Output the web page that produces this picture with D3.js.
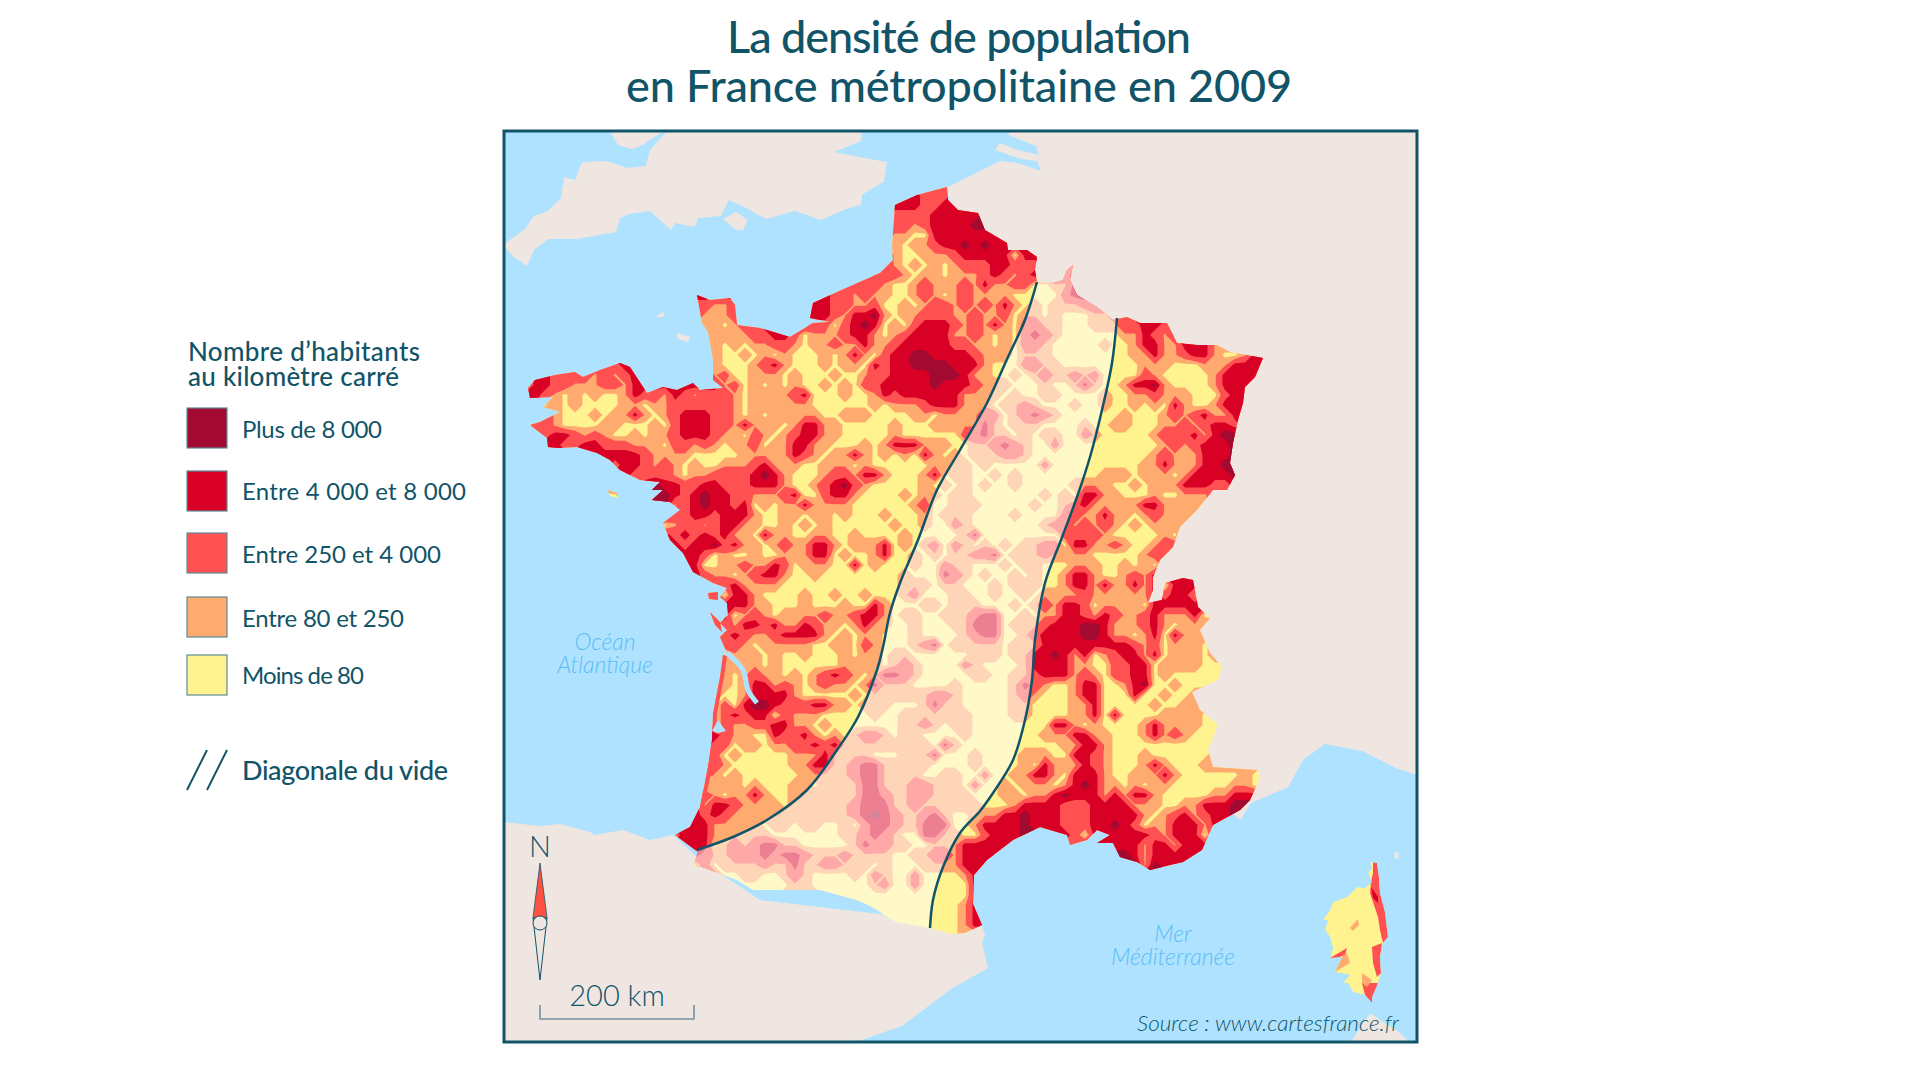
<!DOCTYPE html>
<html lang="fr">
<head>
<meta charset="utf-8">
<title>La densité de population en France métropolitaine en 2009</title>
<script src="https://cdn.jsdelivr.net/npm/d3@7"></script>
<style>
  body { margin: 0; background: #fff; }
  svg { display: block; }
  text { font-family: Lato, "Open Sans", sans-serif; fill: #115468; }
</style>
</head>
<body>
<div id="svgWrapper"></div>
<script>
const titleLines = ['La densité de population', 'en France métropolitaine en 2009'];
const titleWidths = [464, 666];
const legendTitle = ['Nombre d’habitants', 'au kilomètre carré'];
const legendTitleWidths = [232, 211];
const legendLabels = ['Plus de 8 000', 'Entre 4 000 et 8 000', 'Entre 250 et 4 000', 'Entre 80 et 250', 'Moins de 80'];
const legendWidths = [140, 224, 199, 162, 122];
const legendClasses = [4, 3, 2, 1, 0];
const classColors = ['#fff390', '#ffab70', '#ff5151', '#d90025', '#a30a32'];

// density class, one digit per 10 x 10 cell, 0 = moins de 80 ... 4 = plus de 8 000
const westRows = [
    '', '', '', '', '', '', '', '', '',
    '000000 000000 000000 000000 000000 000002',
    '000000 000000 000000 000000 000000 000222',
    '000000 000000 000000 230000 000000 022121',
    '000000 000000 000000 211200 000003 322112',
    '000000 000000 000000 111200 000003 321334',
    '000000 000000 000000 110110 000002 202343',
    '000000 000000 000000 011112 233201 112331',
    '000000 000000 000000 010101 122101 121131',
    '000000 000000 000000 010010 101000 101310',
    '000000 002230 000000 010001 231000 101103',
    '000222 212123 000000 012001 110100 010012',
    '033221 112213 012233 001201 010100 101022',
    '332101 010013 221321 222101 111230 001001',
    '200101 000011 011222 222101 111110 000001',
    '000100 010113 101233 322101 011111 001110',
    '022100 001100 010233 322131 110133 110000',
    '002332 121001 011233 321102 101233 110000',
    '000322 332221 110221 210112 011331 100010',
    '000002 023333 211110 000011 111321 011310',
    '000000 002233 212101 001112 311100 111010',
    '000000 000022 222101 122223 431000 122133',
    '000000 000000 023322 332223 331001 234210',
    '000000 000000 034323 433221 112300 233100',
    '000000 000000 022123 433230 101131 111000',
    '000000 000000 000223 323331 001101 101000',
    '000000 000000 000122 123311 001010 100000',
    '000000 000000 000232 323110 311001 100100',
    '000000 000000 000323 342311 012113 310111',
    '000000 000000 000033 201001 001113 301001',
    '000000 000000 000023 001121 132011 100301',
    '000000 000000 000002 211012 331001 000000',
    '000000 000000 000000 002311 110000 000000',
    '000000 000000 000000 220331 000010 010010',
    '000000 000000 000000 002331 100010 001003',
    '000000 000000 000000 002012 101111 211233',
    '000000 000000 000000 002133 231132 110131',
    '000000 000000 000000 002321 123333 101011',
    '000000 000000 000000 002210 111110 011021',
    '000000 000000 000000 000111 010010 001011',
    '000000 000000 000000 001111 010000 001111',
    '000000 000000 000000 001012 110101 232101',
    '000000 000000 000000 001013 312101 211013',
    '000000 000000 000000 000013 333100 000101',
    '000000 000000 000000 002034 432223 311011',
    '000000 000000 000000 002323 302111 000001',
    '000000 000000 000000 002112 233110 100000',
    '000000 000000 000000 032110 032231 010122',
    '000000 000000 000000 022011 011223 231111',
    '000000 000000 000000 020100 000111 311110',
    '000000 000000 000000 021000 000113 311233',
    '000000 000000 000000 010100 000011 111233',
    '000000 000000 000000 011101 000110 111133',
    '000000 000000 000000 210113 100111 111133',
    '000000 000000 000000 133211 110111 111233',
    '000000 000000 000000 232111 111111 111234',
    '000000 000000 000003 311111 011011 001023',
    '000000 000000 000233 311111 100000 001123',
    '000000 000000 000033 301212 331100 000132',
    '000000 000000 000000 211222 323321 112111',
    '000000 000000 000000 201111 211311 221110',
    '000000 000000 000000 000011 001210 000102',
    '000000 000000 000000 000000 000110 000001',
    '', '', '', '', ''
];
const eastRows = [
    '000002 200000',
    '023322 200000',
    '033322 320000',
    '022223 333340',
    '022123 333430',
    '011003 333333',
    '010112 334343 300000',
    '010011 123333 303300',
    '010101 012223 322200 020000',
    '221011 011123 212300 220000',
    '100121 112131 122001 120000',
    '100121 012111 100000 232000',
    '001012 212121 310101 112100',
    '101122 211211 201101 000110',
    '010233 321213 102211 000111 223320',
    '012333 311210 102321 000000 113212',
    '123333 322110 102210 000010 013311 333110',
    '233443 333211 101110 000000 011311 233100 1330',
    '233444 433310 002211 000000 001110 001113 3330',
    '233334 443110 010121 121200 002100 000133 3300',
    '333334 333211 100010 013100 133410 000133 3000',
    '323333 331111 010011 000010 011211 100023 3000',
    '011123 331110 112100 010010 010103 100133 3000',
    '000110 111122 012321 000000 100012 123113 3000',
    '010001 111131 011100 001001 100011 212332',
    '010000 002231 101011 002100 000122 231342',
    '133311 100112 321002 000000 000012 123332',
    '101031 010111 221000 000000 000121 113333',
    '000001 111010 000020 000000 001131 113343',
    '100013 011001 010000 000011 101110 133332',
    '000010 101010 010000 011110 010111 333221',
    '001011 011000 000010 103311 000100 111000',
    '000120 011100 000100 123111 113311 110000',
    '100010 111000 010000 221131 101211 100000',
    '010010 021000 000012 212121 010111',
    '001000 001300 000000 222210 000010',
    '301012 021010 101122 033112 100122',
    '300101 011223 011121 111000 001220',
    '000100 211000 101100 011100 101010',
    '001000 321010 010100 133100 121000',
    '001110 110001 011100 133131 131303 310000',
    '001200 011001 001011 112111 111023 310000',
    '100011 011100 010121 332011 110333 330000',
    '101100 111233 001011 332132 112311 130000',
    '100100 011333 011123 334431 112310 110000',
    '000100 001233 001233 334431 101303 110000',
    '000123 011111 011133 333333 321201 110100',
    '011000 000111 011334 313012 331301 110000',
    '012100 002100 001333 311002 233011 110000',
    '332100 000110 011233 312102 233010 000000',
    '111000 010000 013210 013300 134001 000000',
    '111112 210000 012100 013300 030010 000000',
    '100013 110000 011000 011300 000100 110000',
    '001111 111000 011000 011303 000011 110000',
    '001121 011000 000003 310100 001311 110000',
    '101100 001000 000011 133110 001312 100000',
    '111110 310000 000000 113310 000000 000000',
    '001113 000100 001110 033210 001000 000000',
    '111110 000100 001031 113210 001310 001000',
    '111100 110020 011331 033310 011131 000000 1000',
    '111221 110200 101110 134311 010110 000001 1000',
    '211221 111000 110113 433313 133100 000113 3000',
    '311211 111100 013333 222333 311100 113334 3000',
    '321123 100111 334333 222333 331012 312333',
    '321133 300133 334333 222334 320113 331330',
    '210033 110023 330002 220303 333213 330000',
    '211001 113333 300000 022033 331331 330000',
    '100112 213330 000000 000000 431333 300000',
    '100011 113300 000000 000000 001433 000000',
    '100200 001300',
    '200200 000300',
    '000000 000300',
    '000000 001330',
    '000000 001330',
    '000000 001300',
    '000000 001000'
];

// coastlines and borders, in map units
const francePts = [[947,187],[948,200],[958,210],[978,213],[985,230],[997,237],[1007,243],[1008,250],[1027,250],[1037,257],[1035,270],[1037,282],[1053,283],[1063,280],[1067,270],[1073,265],[1070,280],[1077,295],[1097,307],[1113,320],[1127,317],[1140,323],[1167,323],[1177,343],[1197,345],[1217,345],[1230,352],[1263,358],[1255,377],[1245,387],[1243,403],[1238,420],[1233,443],[1230,463],[1235,475],[1227,490],[1213,490],[1205,500],[1197,510],[1180,527],[1173,547],[1160,560],[1153,577],[1153,590],[1148,603],[1162,600],[1165,583],[1183,578],[1193,580],[1198,607],[1210,618],[1200,630],[1210,653],[1222,667],[1218,680],[1192,692],[1200,710],[1218,725],[1208,750],[1213,767],[1258,770],[1260,778],[1250,800],[1240,810],[1213,825],[1202,850],[1183,862],[1170,865],[1150,870],[1137,862],[1120,857],[1113,843],[1097,843],[1110,835],[1097,830],[1087,840],[1070,845],[1067,835],[1040,827],[1013,840],[987,860],[974,875],[973,904],[982,925],[965,933],[951,934],[930,928],[896,922],[872,907],[857,900],[820,890],[753,890],[737,880],[702,867],[693,867],[698,852],[675,835],[690,827],[700,807],[708,767],[712,740],[713,713],[720,677],[723,655],[727,653],[720,637],[727,630],[720,623],[728,615],[727,603],[720,597],[727,588],[713,583],[693,572],[683,553],[670,540],[663,523],[680,510],[670,502],[652,500],[663,490],[652,490],[660,482],[640,480],[620,470],[610,460],[597,453],[577,447],[558,448],[548,447],[547,438],[530,425],[540,422],[560,412],[543,407],[553,397],[530,398],[528,388],[535,380],[555,375],[575,372],[583,377],[600,370],[620,363],[630,367],[647,393],[663,387],[677,390],[693,383],[700,390],[723,388],[713,380],[713,360],[708,332],[702,323],[697,295],[710,300],[730,298],[735,305],[737,325],[760,328],[790,337],[813,323],[830,322],[810,318],[813,303],[837,292],[880,273],[893,260],[892,247],[895,205],[917,195]];
const ilesPts = [
    [[708,593],[718,592],[718,600],[709,599]],
    [[710,612],[720,622],[722,632],[715,625]],
    [[608,490],[617,493],[618,498],[610,496]]
];
const littoralLandes = [[723,655],[720,677],[713,713],[712,740],[708,767],[700,807]];
const corsePts = [[1370,862],[1377,863],[1379,877],[1380,893],[1385,912],[1388,937],[1383,943],[1380,957],[1381,973],[1378,983],[1372,997],[1372,1003],[1365,995],[1353,992],[1348,983],[1343,983],[1350,975],[1335,972],[1342,957],[1330,958],[1333,948],[1330,937],[1325,930],[1328,920],[1323,920],[1330,910],[1333,902],[1347,897],[1357,887],[1365,888],[1372,882],[1368,873],[1372,868]];
const corseClasses = [2, 3, 2, 2, 1, 2, 1, 1];
const corseZones = [
    [[1373,862],[1377,863],[1379,877],[1380,893],[1385,912],[1388,937],[1383,943],[1380,930],[1378,917],[1370,893],[1371,882],[1373,873]],
    [[1371,887],[1378,897],[1378,903],[1373,898]],
    [[1372,947],[1382,943],[1380,957],[1381,973],[1377,977],[1373,963]],
    [[1362,983],[1378,983],[1372,1003],[1365,995]],
    [[1362,973],[1372,980],[1367,987],[1362,983]],
    [[1330,958],[1347,948],[1345,955],[1337,958]],
    [[1342,957],[1347,953],[1350,963],[1335,972]],
    [[1350,928],[1358,919],[1359,925],[1353,931]]
];
const landPts = [
    // Belgique, Allemagne, Suisse, Italie
    [[946,188],[1000,161],[1018,163],[1041,171],[1037,161],[1021,159],[995,150],[1000,143],[1018,150],[1039,155],[1036,146],[1018,139],[1007,134],[1014,130],[1421,130],[1421,776],[1398,769],[1362,751],[1325,744],[1303,760],[1288,787],[1251,803],[1240,820],[1100,700]],
    // Angleterre
    [[668,130],[862,130],[861,141],[834,152],[859,157],[887,162],[884,182],[871,189],[862,195],[861,205],[846,209],[821,220],[795,211],[766,219],[746,208],[729,200],[721,216],[698,218],[695,227],[675,223],[671,230],[650,211],[629,214],[620,218],[616,232],[577,239],[548,239],[534,250],[527,266],[514,257],[503,245],[525,229],[534,216],[548,211],[561,198],[564,177],[575,180],[582,162],[607,161],[627,168],[646,166],[650,150]],
    [[609,130],[618,145],[632,149],[643,145],[648,141],[666,130]],
    [[723,219],[736,212],[748,220],[743,230],[736,230]],
    [[655,317],[663,312],[665,317]],
    [[677,333],[690,337],[688,342],[678,339]],
    // Espagne
    [[503,822],[540,826],[560,824],[590,832],[595,835],[623,830],[650,840],[673,835],[700,860],[760,900],[982,926],[985,934],[982,943],[988,968],[951,989],[902,1026],[853,1043],[503,1043]],
    // Sardaigne
    [[1350,1043],[1370,1013],[1400,1033],[1410,1043]],
    [[1394,853],[1398,852],[1399,858],[1395,859]]
];
const girondePts = [[727,653],[743,670],[748,690],[757,703]];
const arcachonPts = [[712,731],[718,720],[726,731],[718,733]];
const diagGauche = [[1037,282],[1025,320],[1008,357],[987,403],[960,450],[937,490],[918,540],[900,583],[890,613],[883,647],[877,670],[858,717],[837,750],[807,790],[767,820],[733,837],[697,850]];
const diagDroite = [[1117,318],[1112,363],[1102,410],[1090,457],[1077,497],[1061,540],[1045,583],[1035,640],[1032,680],[1025,720],[1013,760],[993,793],[980,811],[960,833],[943,867],[933,900],[930,928]];
const diagZoneEnds = [[[1117,250],[1040,250]], [[680,880],[928,960]]];

const boussole = { sommet: [540,863], pointe: [540,980], coteG: [533,918], coteD: [547,918], centre: [540,923] };
const echelle = [[540,1005],[540,1019],[694,1019],[694,1005]];

const w = 1920;
const h = 1080;
const frame = { x0: 504, x1: 1417, y0: 131, y1: 1042 };
const cellSize = 10;
const gridX0 = 520;
const gridY0 = 180;
const nCols = 76;
const nRows = westRows.length;

const svg = d3.select('#svgWrapper')
    .append('svg')
    .attr('width', w)
    .attr('height', h)
    .attr('viewBox', '0 0 ' + w + ' ' + h);

const xScale = d3.scaleLinear().domain([frame.x0, frame.x1]).range([frame.x0, frame.x1]);
const yScale = d3.scaleLinear().domain([frame.y0, frame.y1]).range([frame.y0, frame.y1]);
const colScale = d3.scaleLinear().domain([0, nCols]).range([xScale(gridX0), xScale(gridX0 + nCols * cellSize)]);
const rowScale = d3.scaleLinear().domain([0, nRows]).range([yScale(gridY0), yScale(gridY0 + nRows * cellSize)]);

const polyLine = d3.line().x((d) => xScale(d[0])).y((d) => yScale(d[1]));
const closedPoly = (pts) => polyLine(pts) + 'Z';
const smoothLine = d3.line().x((d) => xScale(d[0])).y((d) => yScale(d[1])).curve(d3.curveCatmullRom.alpha(0.5));

// Flatten the two halves of the grid into what d3.contours wants
let gridValues = [];
for (let r = 0; r < nRows; r++) {
    const west = westRows[r].replace(/ /g, '').padEnd(36, '0');
    const east = eastRows[r].replace(/ /g, '').padEnd(40, '0');
    const row = west + east;
    for (let c = 0; c < nCols; c++) gridValues.push(+row[c]);
}

// Cells in the sea take the class of the coast next to them, so the contours
// do not pull back from the shoreline before the clip cuts them
for (let pass = 0; pass < 2; pass++) {
    const prev = gridValues.slice();
    for (let r = 1; r < nRows - 1; r++) {
        for (let c = 1; c < nCols - 1; c++) {
            const centre = [gridX0 + (c + 0.5) * cellSize, gridY0 + (r + 0.5) * cellSize];
            if (d3.polygonContains(francePts, centre)) continue;
            const i = r * nCols + c;
            gridValues[i] = Math.max(prev[i], prev[i - 1], prev[i + 1], prev[i - nCols], prev[i + nCols]);
        }
    }
}

const contours = d3.contours()
    .size([nCols, nRows])
    .thresholds([0.25, 1.15, 2.5, 3.5])(gridValues);

const gridPath = d3.geoPath(d3.geoTransform({
    point: function (x, y) { this.stream.point(colScale(x), rowScale(y)); }
}));

const defs = svg.append('defs');
defs.append('clipPath').attr('id', 'frameClip').append('rect')
    .attr('x', xScale(frame.x0)).attr('y', yScale(frame.y0))
    .attr('width', xScale(frame.x1) - xScale(frame.x0))
    .attr('height', yScale(frame.y1) - yScale(frame.y0));

const franceClip = defs.append('clipPath').attr('id', 'franceClip');
franceClip.append('path').attr('d', closedPoly(francePts));
ilesPts.forEach((p) => franceClip.append('path').attr('d', closedPoly(p)));

const corseClip = defs.append('clipPath').attr('id', 'corseClip');
corseClip.append('path').attr('d', closedPoly(corsePts));

// Title
svg.selectAll('.titleLine')
    .data(titleLines)
    .enter()
    .append('text')
    .attr('class', 'titleLine')
    .attr('x', 959)
    .attr('y', (d, i) => 53 + i * 49)
    .attr('text-anchor', 'middle')
    .attr('font-size', 45)
    .attr('font-weight', 500)
    .attr('textLength', (d, i) => titleWidths[i])
    .text((d) => d);

// Map
const map = svg.append('g').attr('clip-path', 'url(#frameClip)');
map.append('rect')
    .attr('x', xScale(frame.x0)).attr('y', yScale(frame.y0))
    .attr('width', xScale(frame.x1) - xScale(frame.x0))
    .attr('height', yScale(frame.y1) - yScale(frame.y0))
    .attr('fill', '#aee2ff');

map.selectAll('.land')
    .data(landPts)
    .enter()
    .append('path')
    .attr('class', 'land')
    .attr('d', closedPoly)
    .attr('fill', '#efe6e2');

const france = map.append('g').attr('clip-path', 'url(#franceClip)');
france.append('rect')
    .attr('x', xScale(gridX0)).attr('y', yScale(gridY0))
    .attr('width', nCols * cellSize).attr('height', nRows * cellSize)
    .attr('fill', classColors[0]);
france.selectAll('.densite')
    .data(contours.slice(0, 2))
    .enter()
    .append('path')
    .attr('class', 'densite')
    .attr('d', gridPath)
    .attr('fill', (d, i) => classColors[i + 1]);
france.append('path')
    .attr('d', polyLine(littoralLandes))
    .attr('fill', 'none')
    .attr('stroke', classColors[2])
    .attr('stroke-width', 8);
france.selectAll('.densiteForte')
    .data(contours.slice(2))
    .enter()
    .append('path')
    .attr('class', 'densiteForte')
    .attr('d', gridPath)
    .attr('fill', (d, i) => classColors[i + 3]);

// Pale band over the Diagonale du vide
const zonePts = diagZoneEnds[0].concat(diagGauche, diagZoneEnds[1], diagDroite.slice().reverse());
france.append('path')
    .attr('d', closedPoly(zonePts))
    .attr('fill', '#fff')
    .attr('fill-opacity', 0.5);

map.append('path')
    .attr('d', smoothLine(girondePts))
    .attr('fill', 'none')
    .attr('stroke', '#aee2ff')
    .attr('stroke-width', 5);
map.append('path').attr('d', closedPoly(arcachonPts)).attr('fill', '#aee2ff');

// Corse
const corse = map.append('g').attr('clip-path', 'url(#corseClip)');
corse.append('path').attr('d', closedPoly(corsePts)).attr('fill', classColors[0]);
corse.selectAll('.corseZone')
    .data(corseZones)
    .enter()
    .append('path')
    .attr('class', 'corseZone')
    .attr('d', closedPoly)
    .attr('fill', (d, i) => classColors[corseClasses[i]]);

// The two limits of the diagonal
map.selectAll('.diagLine')
    .data([diagGauche, diagDroite])
    .enter()
    .append('path')
    .attr('class', 'diagLine')
    .attr('d', smoothLine)
    .attr('fill', 'none')
    .attr('stroke', '#115468')
    .attr('stroke-width', 2.5);

// Sea labels
const seaLabels = [['Océan', 605, 650], ['Atlantique', 605, 673], ['Mer', 1173, 942], ['Méditerranée', 1173, 965]];
map.selectAll('.seaLabel')
    .data(seaLabels)
    .enter()
    .append('text')
    .attr('class', 'seaLabel')
    .attr('x', (d) => xScale(d[1]))
    .attr('y', (d) => yScale(d[2]))
    .attr('text-anchor', 'middle')
    .attr('font-size', 23)
    .attr('font-style', 'italic')
    .attr('font-weight', 300)
    .style('fill', '#5fbdf5')
    .text((d) => d[0]);

// Compass
map.append('text')
    .attr('x', xScale(boussole.sommet[0])).attr('y', yScale(857))
    .attr('text-anchor', 'middle').attr('font-size', 29).attr('font-weight', 300)
    .text('N');
map.append('path')
    .attr('d', closedPoly([boussole.sommet, boussole.coteD, boussole.coteG]))
    .attr('fill', '#ff5040').attr('stroke', '#115468').attr('stroke-width', 0.8);
map.append('path')
    .attr('d', closedPoly([boussole.coteG, boussole.coteD, boussole.pointe]))
    .attr('fill', 'none').attr('stroke', '#115468').attr('stroke-width', 1);
map.append('circle')
    .attr('cx', xScale(boussole.centre[0])).attr('cy', yScale(boussole.centre[1]))
    .attr('r', 7)
    .attr('fill', '#efe6e2').attr('stroke', '#115468').attr('stroke-width', 1);

// Scale bar
map.append('path')
    .attr('d', polyLine(echelle))
    .attr('fill', 'none').attr('stroke', '#74939e').attr('stroke-width', 1.6);
map.append('text')
    .attr('x', xScale(617)).attr('y', yScale(1006))
    .attr('text-anchor', 'middle').attr('font-size', 29).attr('font-weight', 300)
    .text('200 km');

// Source
map.append('text')
    .attr('x', xScale(1399)).attr('y', yScale(1031))
    .attr('text-anchor', 'end').attr('font-size', 22.5)
    .attr('font-style', 'italic').attr('font-weight', 300)
    .text('Source : www.cartesfrance.fr');

// Frame on top of everything in the map
svg.append('rect')
    .attr('x', xScale(frame.x0)).attr('y', yScale(frame.y0))
    .attr('width', xScale(frame.x1) - xScale(frame.x0))
    .attr('height', yScale(frame.y1) - yScale(frame.y0))
    .attr('fill', 'none').attr('stroke', '#115468').attr('stroke-width', 3);

// Legend
const legendY = [408, 471, 533, 597, 655];
const legendBase = [438, 500, 563, 627, 684];
svg.selectAll('.legendTitle')
    .data(legendTitle)
    .enter()
    .append('text')
    .attr('class', 'legendTitle')
    .attr('x', 188)
    .attr('y', (d, i) => 361 + i * 25)
    .attr('font-size', 26)
    .attr('font-weight', 500)
    .attr('textLength', (d, i) => legendTitleWidths[i])
    .text((d) => d);
svg.selectAll('.legendSwatch')
    .data(legendClasses)
    .enter()
    .append('rect')
    .attr('class', 'legendSwatch')
    .attr('x', 187)
    .attr('y', (d, i) => legendY[i])
    .attr('width', 40)
    .attr('height', 40)
    .attr('fill', (d) => classColors[d])
    .attr('stroke', '#5e8a96')
    .attr('stroke-width', 1.2);
svg.selectAll('.legendLabel')
    .data(legendLabels)
    .enter()
    .append('text')
    .attr('class', 'legendLabel')
    .attr('x', 242)
    .attr('y', (d, i) => legendBase[i])
    .attr('font-size', 24)
    .attr('textLength', (d, i) => legendWidths[i])
    .text((d) => d);
[187, 207].forEach((x) => {
    svg.append('line')
        .attr('x1', x).attr('y1', 790).attr('x2', x + 20).attr('y2', 750)
        .attr('stroke', '#115468').attr('stroke-width', 2);
});
svg.append('text')
    .attr('x', 242).attr('y', 780)
    .attr('font-size', 27).attr('font-weight', 500)
    .attr('textLength', 206)
    .text('Diagonale du vide');
</script>
</body>
</html>
